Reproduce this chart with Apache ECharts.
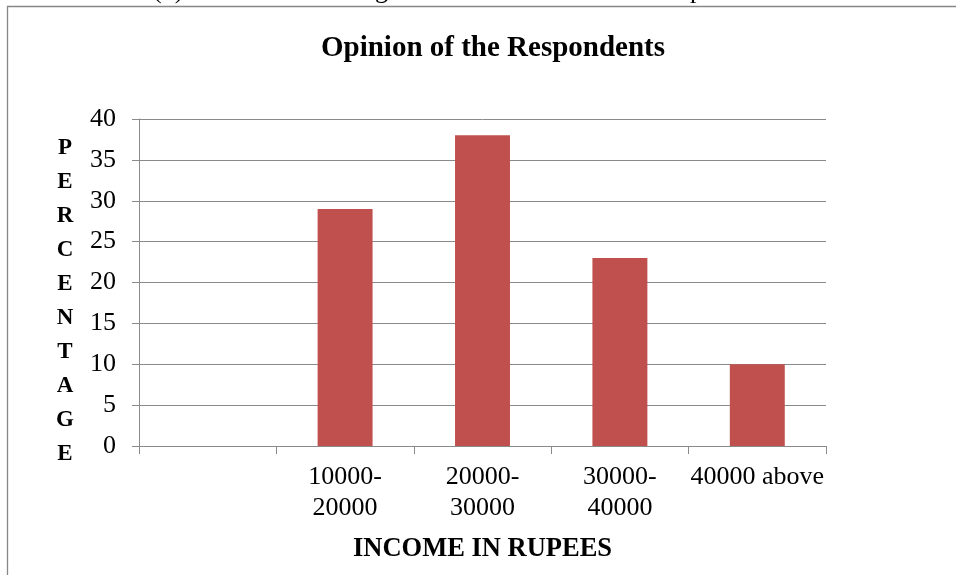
<!DOCTYPE html>
<html>
<head>
<meta charset="utf-8">
<script src="https://cdn.jsdelivr.net/npm/echarts@6/dist/echarts.min.js"></script>
<style>
  html, body { margin: 0; padding: 0; background: #ffffff; }
  #chart { width: 956px; height: 575px; }
</style>
</head>
<body>
<div id="chart"></div>
<script>
// Income groups (the first slot is left empty on purpose)
const categories = ['', '10000-\n20000', '20000-\n30000', '30000-\n40000', '40000 above'];
// Share of respondents in each income group, in percent
const percentages = [null, 29, 38, 23, 10];
// Value axis ticks
const yMin = 0;
const yMax = 40;
const yStep = 5;

const serif = '"Liberation Serif", "Times New Roman", serif';
const gridGray = '#8a8a8a';

const chart = echarts.init(document.getElementById('chart'), null, { renderer: 'canvas' });

chart.setOption({
  animation: false,
  backgroundColor: '#ffffff',
  title: {
    text: 'Opinion of the Respondents',
    left: 488,
    top: 29,
    textAlign: 'center',
    textStyle: { fontFamily: serif, fontSize: 29, fontWeight: 'bold', color: '#000' }
  },
  grid: { left: 139, right: 130, top: 119, bottom: 129, containLabel: false },
  xAxis: {
    type: 'category',
    data: categories,
    boundaryGap: true,
    axisLine: { show: true, lineStyle: { color: gridGray, width: 1 } },
    axisTick: { show: true, length: 8, alignWithLabel: false, lineStyle: { color: gridGray, width: 1 } },
    axisLabel: {
      interval: 0,
      margin: 16,
      fontFamily: serif,
      fontSize: 26,
      lineHeight: 31,
      color: '#000'
    },
    name: 'INCOME IN RUPEES',
    nameLocation: 'middle',
    nameGap: 90,
    nameTextStyle: { fontFamily: serif, fontSize: 26.5, fontWeight: 'bold', color: '#000' }
  },
  yAxis: {
    type: 'value',
    min: yMin,
    max: yMax,
    interval: yStep,
    axisLine: { show: true, lineStyle: { color: gridGray, width: 1 } },
    axisTick: { show: true, length: 7, lineStyle: { color: gridGray, width: 1 } },
    axisLabel: { margin: 23, fontFamily: serif, fontSize: 26, color: '#000' },
    splitLine: { show: true, lineStyle: { color: gridGray, width: 1 } }
  },
  series: [{
    type: 'bar',
    data: percentages,
    barWidth: '40%',
    itemStyle: { color: '#C0504D' }
  }],
  graphic: [
    // page frame around the chart
    {
      type: 'rect',
      shape: { x: 7.5, y: 6.5, width: 1100, height: 700 },
      style: { fill: null, stroke: '#878787', lineWidth: 1.3 },
      silent: true
    },
    // running text of the page above the frame
    {
      type: 'text', left: 153, top: -22,
      style: { text: '(  )', fontFamily: serif, fontSize: 26, fill: '#000' }
    },
    {
      type: 'text', left: 375, top: -22,
      style: { text: 'g', fontFamily: serif, fontSize: 26, fill: '#000' }
    },
    {
      type: 'text', left: 690, top: -22,
      style: { text: 'p', fontFamily: serif, fontSize: 26, fill: '#000' }
    },
    // vertical value-axis title, one letter per line
    {
      type: 'text',
      x: 65,
      y: 301,
      style: {
        text: 'P\nE\nR\nC\nE\nN\nT\nA\nG\nE',
        fontFamily: serif,
        fontSize: 23,
        fontWeight: 'bold',
        lineHeight: 34,
        fill: '#000',
        align: 'center',
        verticalAlign: 'middle'
      }
    }
  ]
});
</script>
</body>
</html>
